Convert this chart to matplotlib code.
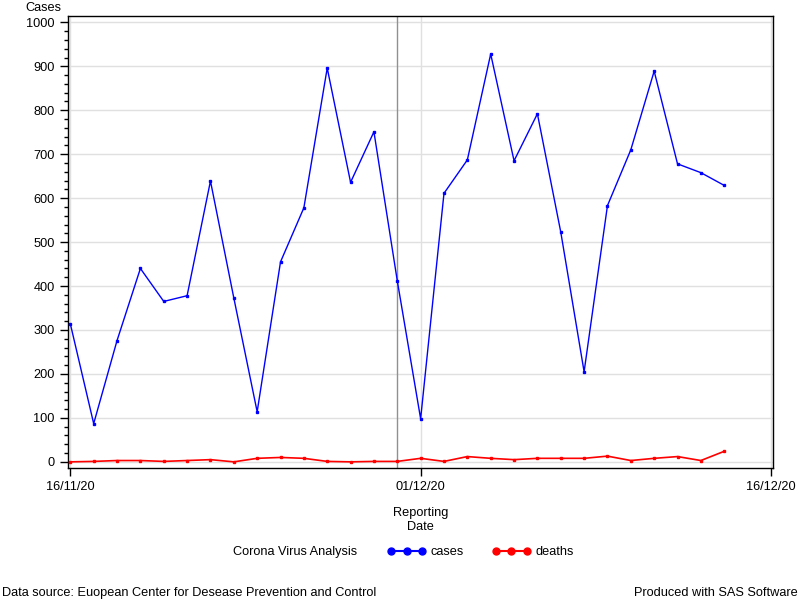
import matplotlib
matplotlib.use("Agg")
import matplotlib.pyplot as plt
import matplotlib.dates as mdates
from matplotlib.lines import Line2D
from matplotlib.ticker import MultipleLocator
import numpy as np
import datetime as dt

plt.rcParams['font.family'] = ['Liberation Sans', 'DejaVu Sans']

# Corona Virus Analysis - daily cases and deaths
start = dt.date(2020, 11, 16)
dates = [start + dt.timedelta(days=i) for i in range(29)]
cases = [314, 87, 276, 440, 365, 378, 639, 373, 114, 455, 578, 896, 636, 751, 412,
         98, 611, 687, 928, 685, 792, 523, 205, 583, 710, 889, 678, 658, 629]
deaths = [0, 1, 3, 3, 1, 3, 5, 0, 8, 10, 8, 1, 0, 1, 1,
          8, 1, 12, 8, 5, 8, 8, 8, 13, 3, 8, 12, 3, 24]
ref_date = dt.date(2020, 11, 30)
xtick_dates = [dt.date(2020, 11, 16), dt.date(2020, 12, 1), dt.date(2020, 12, 16)]

fig = plt.figure(figsize=(8, 6), dpi=100)
ax = fig.add_axes([0.085, 0.22, 0.881, 0.753])

ax.plot(dates, cases, color='#0000ff', lw=1, marker='s', ms=1.8, zorder=3)
ax.plot(dates, deaths, color='#ff0000', lw=1.2, marker='s', ms=1.8, zorder=3)
ax.axvline(ref_date, color='#909090', lw=1, zorder=2)

ax.set_xlim(mdates.date2num(dt.date(2020, 11, 16)) - 0.1,
            mdates.date2num(dt.date(2020, 12, 16)) + 0.08)
ax.set_ylim(-14, 1014)
ax.set_xticks(xtick_dates)
ax.xaxis.set_major_formatter(mdates.DateFormatter('%d/%m/%y'))
ax.yaxis.set_major_locator(MultipleLocator(100))
ax.yaxis.set_minor_locator(MultipleLocator(20))
ax.tick_params(axis='both', which='major', labelsize=9.2, length=6, width=1, direction='out')
ax.tick_params(axis='y', which='minor', length=3, width=1)
ax.grid(True, which='major', color='#e0e0e0', lw=1)
ax.set_axisbelow(True)
for s in ax.spines.values():
    s.set_linewidth(1)

fig.text(0.032, 0.987, 'Cases', fontsize=9.2, ha='left', va='center')
ax.set_xlabel('Reporting\nDate', fontsize=9.2, labelpad=10)

fig.text(0.291, 0.08, 'Corona Virus Analysis', fontsize=9.2, ha='left', va='center')
handles = [Line2D([], [], color='#0000ff', marker='o', ms=5, lw=1.5),
           Line2D([], [], color='#ff0000', marker='o', ms=5, lw=1.5)]
fig.legend(handles, ['cases', 'deaths'], loc='center left', bbox_to_anchor=(0.47, 0.08),
           ncol=2, numpoints=3, frameon=False, fontsize=9.2, handlelength=3,
           handletextpad=0.4, columnspacing=2.2)

fig.text(0.002, 0.012, 'Data source: Euopean Center for Desease Prevention and Control',
         fontsize=9.2, ha='left', va='center')
fig.text(0.997, 0.012, 'Produced with SAS Software', fontsize=9.2, ha='right', va='center')

fig.savefig('out.png', dpi=100)
